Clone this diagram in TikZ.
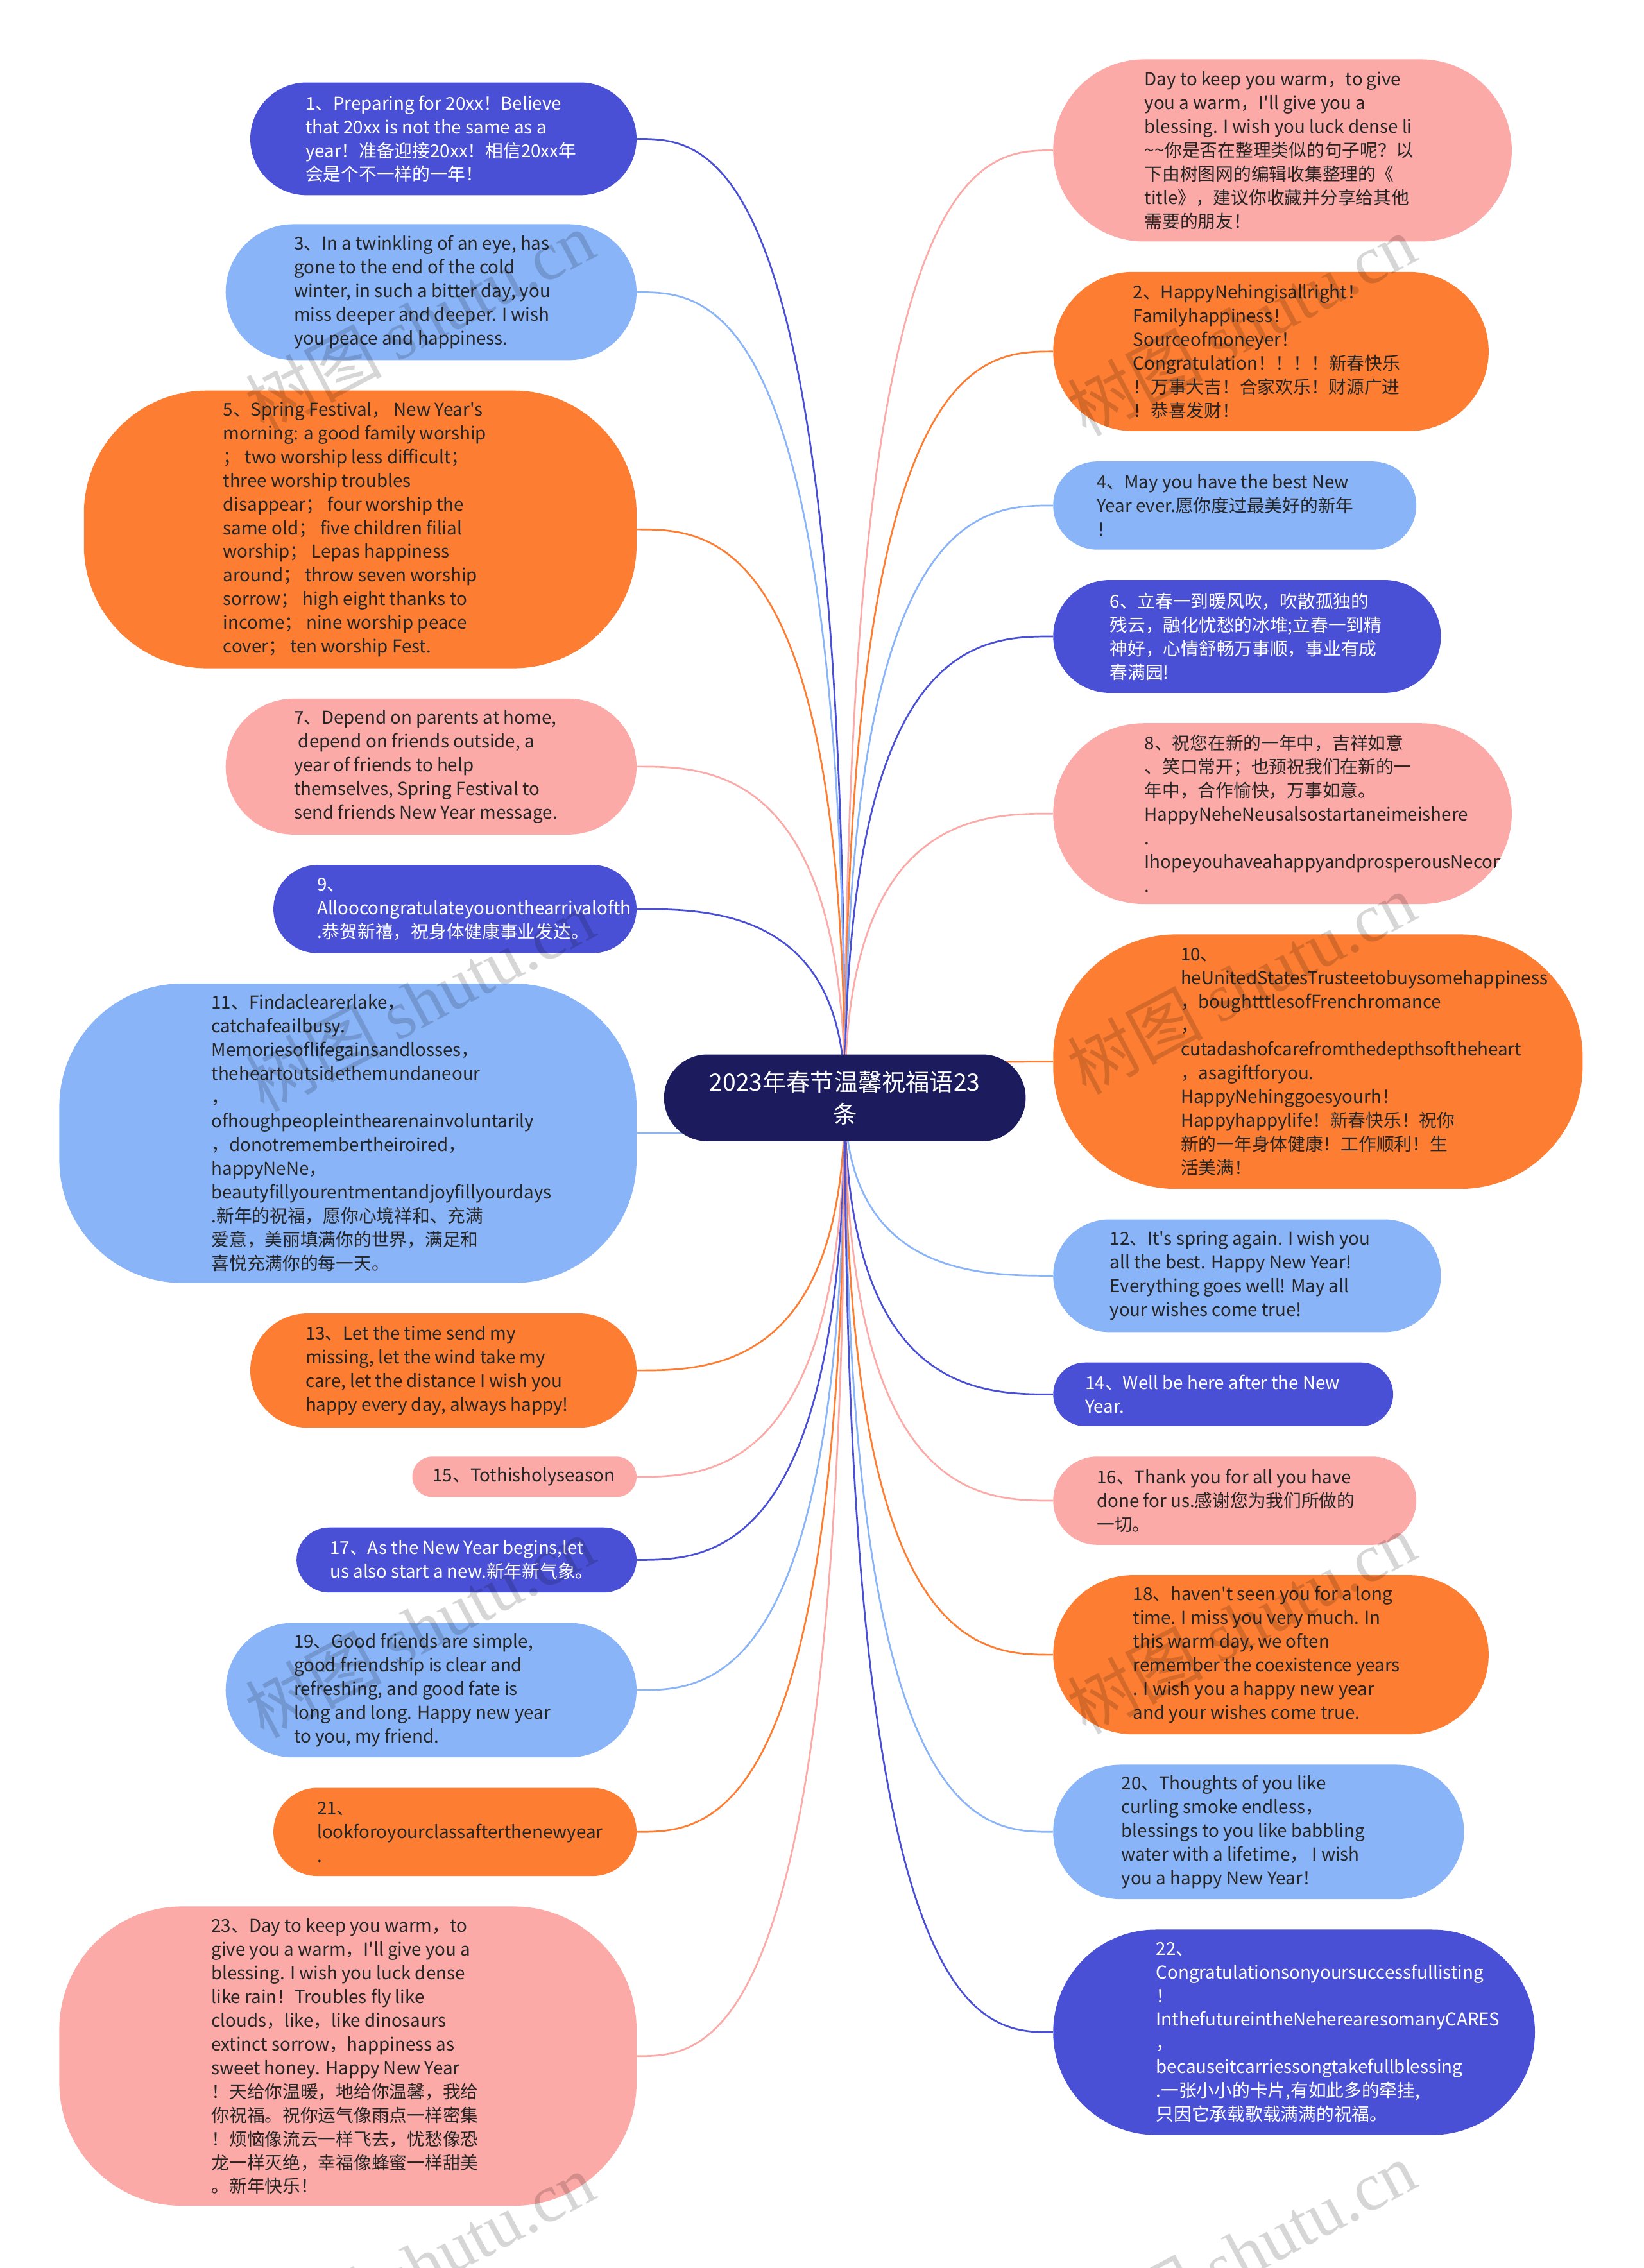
\documentclass[tikz,border=0pt]{standalone}
\usepackage{fontspec}
\setmainfont{Noto Sans CJK SC}[Ligatures=TeXOff]
\newfontfamily\wmserif{Liberation Serif}
\usetikzlibrary{calc}
\pgfdeclarelayer{bg}
\pgfsetlayers{bg,main}
\definecolor{cdark}{HTML}{4A50D5}
\definecolor{clight}{HTML}{8AB4F8}
\definecolor{corange}{HTML}{FD7E32}
\definecolor{cpink}{HTML}{FCAAA8}
\definecolor{ccenter}{HTML}{1B1B5E}
\definecolor{ctext}{HTML}{262626}
\tikzset{
  txt/.style={inner sep=0pt, align=left, font=\fontsize{12.3}{16.4}\selectfont},
  conn/.style={line width=1.2pt},
  wm/.style={inner sep=0pt, font=\fontsize{47}{47}\selectfont, text=black, opacity=0.16, rotate=28},
}
\newcommand\mm[9]{%
  \pgfmathsetmacro\rr{min(#6/2,85)}%
  \node[fill=#2, rounded corners=\rr pt, minimum width=#5pt, minimum height=#6pt, inner sep=0pt] (#1) at (#3,#4) {};
  \begin{scope}
    \clip[rounded corners=\rr pt] (#1.south west) rectangle (#1.north east);
    \node[txt, text=#8, anchor=west] (#1t) at (#7,#4) {#9};
  \end{scope}}
\newcommand\lconn[2]{\draw[conn, #2] (c.center) .. controls (c.center |- #1.east) and ($(#1.east)+(50,0)$) .. (#1.east);}
\newcommand\rconn[2]{\draw[conn, #2] (c.center) .. controls (c.center |- #1.west) and ($(#1.west)+(-50,0)$) .. (#1.west);}
\begin{document}
\begin{tikzpicture}[x=1pt,y=-1pt]
\useasboundingbox (0,0) rectangle (1136,1568);
% center
\node[fill=ccenter, rounded corners=30pt, minimum width=250pt, minimum height=60pt, inner sep=0pt, text=white, align=center, font=\fontsize{16.5}{22}\selectfont] (c) at (584,759) {2023年春节温馨祝福语23\\条};
% left column
\mm{n1}{cdark}{306.5}{96}{267}{78}{211}{white}{1、Preparing for 20xx！Believe\\that 20xx is not the same as a\\year！准备迎接20xx！相信20xx年\\会是个不一样的一年！}
\mm{n3}{clight}{298}{202}{284}{94}{203}{ctext}{3、In a twinkling of an eye, has\\gone to the end of the cold\\winter, in such a bitter day, you\\miss deeper and deeper. I wish\\you peace and happiness.}
\mm{n5}{corange}{249}{366}{382}{192}{154}{ctext}{5、Spring Festival，  New Year's\\morning: a good family worship\\；  two worship less difficult；\\three worship troubles\\disappear；  four worship the\\same old；  five children filial\\worship；  Lepas happiness\\around；  throw seven worship\\sorrow；  high eight thanks to\\income；  nine worship peace\\cover；  ten worship Fest.}
\mm{n7}{cpink}{298}{530}{284}{94}{203}{ctext}{7、Depend on parents at home,\\\hspace*{3pt}depend on friends outside, a\\year of friends to help\\themselves, Spring Festival to\\send friends New Year message.}
\mm{n9}{cdark}{314.5}{628.5}{251}{61}{219}{white}{9、\\Alloocongratulateyouonthearrivalofth\\.恭贺新禧，祝身体健康事业发达。}
\mm{n11}{clight}{240.5}{783.5}{399}{207}{146}{ctext}{11、Findaclearerlake，\\catchafeailbusy.\\Memoriesoflifegainsandlosses，\\theheartoutsidethemundaneour\\，\\ofhoughpeopleinthearenainvoluntarily\\，donotremembertheiroired，\\happyNeNe，\\beautyfillyourentmentandjoyfillyourdays\\.新年的祝福，愿你心境祥和、充满\\爱意，美丽填满你的世界，满足和\\喜悦充满你的每一天。}
\mm{n13}{corange}{306.5}{947.5}{267}{79}{211}{ctext}{13、Let the time send my\\missing, let the wind take my\\care, let the distance I wish you\\happy every day, always happy!}
\mm{n15}{cpink}{362.5}{1021}{155}{28}{299}{ctext}{15、Tothisholyseason}
\mm{n17}{cdark}{322.5}{1078.5}{235}{45}{228}{white}{17、As the New Year begins,let\\us also start a new.新年新气象。}
\mm{n19}{clight}{298}{1168.5}{284}{93}{203}{ctext}{19、Good friends are simple,\\good friendship is clear and\\refreshing, and good fate is\\long and long. Happy new year\\to you, my friend.}
\mm{n21}{corange}{314.5}{1266.5}{251}{61}{219}{ctext}{21、\\lookforoyourclassafterthenewyear\\.}
\mm{n23}{cpink}{240.5}{1421.5}{399}{207}{146}{ctext}{23、Day to keep you warm，to\\give you a warm，I'll give you a\\blessing. I wish you luck dense\\like rain！Troubles fly like\\clouds，like，like dinosaurs\\extinct sorrow，happiness as\\sweet honey. Happy New Year\\！天给你温暖，地给你温馨，我给\\你祝福。祝你运气像雨点一样密集\\！烦恼像流云一样飞去，忧愁像恐\\龙一样灭绝，幸福像蜂蜜一样甜美\\。新年快乐！}
% right column
\mm{r0}{cpink}{886.5}{104}{317}{126}{791}{ctext}{Day to keep you warm，to give\\you a warm，I'll give you a\\blessing. I wish you luck dense li\\\textasciitilde\textasciitilde 你是否在整理类似的句子呢？以\\下由树图网的编辑收集整理的《\\title》，建议你收藏并分享给其他\\需要的朋友！}
\mm{n2}{corange}{878.5}{243}{301}{110}{783}{ctext}{2、HappyNehingisallright！\\Familyhappiness！\\Sourceofmoneyer！\\Congratulation！！！！新春快乐\\！万事大吉！合家欢乐！财源广进\\！恭喜发财！}
\mm{n4}{clight}{853.5}{349.5}{251}{61}{758}{ctext}{4、May you have the best New\\Year ever.愿你度过最美好的新年\\！}
\mm{n6}{cdark}{862}{440}{268}{78}{767}{white}{6、立春一到暖风吹，吹散孤独的\\残云，融化忧愁的冰堆;立春一到精\\神好，心情舒畅万事顺，事业有成\\春满园!}
\mm{n8}{cpink}{886.5}{562.5}{317}{125}{791}{ctext}{8、祝您在新的一年中，吉祥如意\\、笑口常开；也预祝我们在新的一\\年中，合作愉快，万事如意。\\HappyNeheNeusalsostartaneimeishere\\.\\IhopeyouhaveahappyandprosperousNecom\\.}
\mm{n10}{corange}{911}{734}{366}{176}{816}{ctext}{10、\\heUnitedStatesTrusteetobuysomehappiness\\，boughtttlesofFrenchromance\\，\\cutadashofcarefromthedepthsoftheheart\\，asagiftforyou.\\HappyNehinggoesyourh！\\Happyhappylife！新春快乐！祝你\\新的一年身体健康！工作顺利！生\\活美满！}
\mm{n12}{clight}{862}{882}{268}{78}{767}{ctext}{12、It's spring again. I wish you\\all the best. Happy New Year!\\Everything goes well! May all\\your wishes come true!}
\mm{n14}{cdark}{845.5}{964}{235}{44}{750}{white}{14、Well be here after the New\\Year.}
\mm{n16}{cpink}{853.5}{1037.5}{251}{61}{758}{ctext}{16、Thank you for all you have\\done for us.感谢您为我们所做的\\一切。}
\mm{n18}{corange}{878.5}{1144}{301}{110}{783}{ctext}{18、haven't seen you for a long\\time. I miss you very much. In\\this warm day, we often\\remember the coexistence years\\. I wish you a happy new year\\and your wishes come true.}
\mm{n20}{clight}{870}{1266.5}{284}{93}{775}{ctext}{20、Thoughts of you like\\curling smoke endless，\\blessings to you like babbling\\water with a lifetime，  I wish\\you a happy New Year！}
\mm{n22}{cdark}{894.5}{1405}{333}{142}{799}{white}{22、\\Congratulationsonyoursuccessfullisting\\！\\InthefutureintheNeherearesomanyCARES\\，\\becauseitcarriessongtakefullblessing\\.一张小小的卡片,有如此多的牵挂,\\只因它承载歌载满满的祝福。}
% connectors and background
\begin{pgfonlayer}{bg}
\fill[white] (0,0) rectangle (1136,1568);
\lconn{n1}{cdark}\lconn{n3}{clight}\lconn{n5}{corange}\lconn{n7}{cpink}
\lconn{n9}{cdark}\lconn{n11}{clight}\lconn{n13}{corange}\lconn{n15}{cpink}
\lconn{n17}{cdark}\lconn{n19}{clight}\lconn{n21}{corange}\lconn{n23}{cpink}
\rconn{r0}{cpink}\rconn{n2}{corange}\rconn{n4}{clight}\rconn{n6}{cdark}
\rconn{n8}{cpink}\rconn{n10}{corange}\rconn{n12}{clight}\rconn{n14}{cdark}
\rconn{n16}{cpink}\rconn{n18}{corange}\rconn{n20}{clight}\rconn{n22}{cdark}
\end{pgfonlayer}
% watermarks
\node[wm] (w1) at (290,222) {树图 {\wmserif shutu.cn}};
\node[wm] (w2) at (858,225) {树图 {\wmserif shutu.cn}};
\node[wm] (w3) at (290,692) {树图 {\wmserif shutu.cn}};
\node[wm] (w4) at (858,680) {树图 {\wmserif shutu.cn}};
\node[wm] (w5) at (290,1125) {树图 {\wmserif shutu.cn}};
\node[wm] (w6) at (858,1122) {树图 {\wmserif shutu.cn}};
\node[wm] (w7) at (290,1565) {树图 {\wmserif shutu.cn}};
\node[wm] (w8) at (858,1557) {树图 {\wmserif shutu.cn}};
\end{tikzpicture}
\end{document}
